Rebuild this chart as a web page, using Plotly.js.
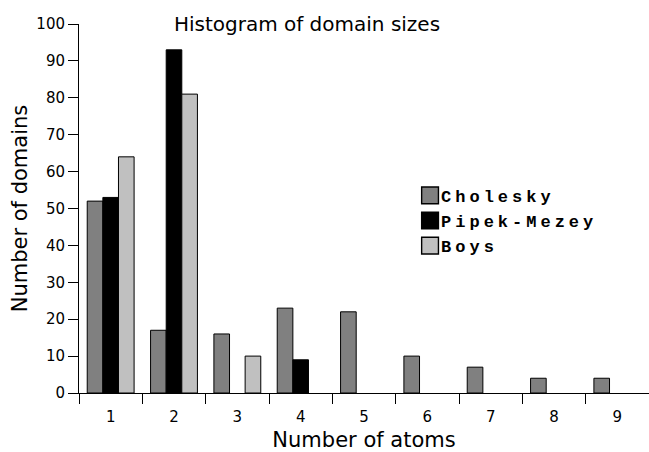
<!DOCTYPE html>
<html>
<head>
<meta charset="utf-8">
<script src="https://cdn.plot.ly/plotly-3.0.1.min.js"></script>
<style>
  html, body { margin: 0; padding: 0; background: #fff; }
  #chart { width: 649px; height: 452px; }
  .legendtext { letter-spacing: 4px; }
  .legendpoints path { transform: translate(29px, 0) scale(1.4); }
</style>
</head>
<body>
<div id="chart"></div>
<script>
const categories = ["1", "2", "3", "4", "5", "6", "7", "8", "9"];
const cholesky = [52, 17, 16, 23, 22, 10, 7, 4, 4];
const pipekMezey = [53, 93, 0, 9, 0, 0, 0, 0, 0];
const boys = [64, 81, 10, 0, 0, 0, 0, 0, 0];
const seriesNames = ["Cholesky", "Pipek-Mezey", "Boys"];
const seriesColors = ["#808080", "#000000", "#c0c0c0"];
const yTicks = [0, 10, 20, 30, 40, 50, 60, 70, 80, 90, 100];

const seriesValues = [cholesky, pipekMezey, boys];
const traces = seriesValues.map((vals, i) => ({
  type: "bar",
  name: seriesNames[i],
  x: categories,
  // zero counts draw no bar at all (no flat outline on the axis)
  y: vals.map(v => (v === 0 ? null : v)),
  marker: { color: seriesColors[i], line: { color: "#000", width: 1 } },
  hoverinfo: "skip"
}));

const layout = {
  width: 649,
  height: 452,
  margin: { l: 79, r: 0, t: 24, b: 59 },
  paper_bgcolor: "#fff",
  plot_bgcolor: "#fff",
  font: { family: "DejaVu Sans", color: "#000" },
  barmode: "group",
  bargap: 0.26,
  bargroupgap: 0,
  title: {
    text: "Histogram of domain sizes",
    font: { family: "DejaVu Sans", size: 20, color: "#000" },
    x: 0.473, xanchor: "center", xref: "container",
    y: 1 - 24 / 452, yanchor: "middle", yref: "container"
  },
  xaxis: {
    type: "category",
    range: [-0.5, 8.5],
    tickson: "boundaries",
    ticks: "outside", ticklen: 10, tickwidth: 1, tickcolor: "#000",
    ticklabelstandoff: 10,
    showline: true, linecolor: "#000", linewidth: 1,
    showgrid: false, zeroline: false,
    tickfont: { family: "DejaVu Sans", size: 15, color: "#000" },
    title: { text: "Number of atoms", font: { family: "DejaVu Sans", size: 21, color: "#000" }, standoff: 10 },
    fixedrange: true
  },
  yaxis: {
    range: [0, 100],
    tickvals: yTicks,
    ticktext: yTicks.map(String),
    ticks: "outside", ticklen: 10, tickwidth: 1, tickcolor: "#000",
    showline: true, linecolor: "#000", linewidth: 1,
    showgrid: false, zeroline: false,
    tickfont: { family: "DejaVu Sans", size: 15, color: "#000" },
    title: { text: "Number of domains", font: { family: "DejaVu Sans", size: 21, color: "#000" }, standoff: 3 },
    fixedrange: true
  },
  showlegend: true,
  legend: {
    x: 0.565, xanchor: "left",
    y: 0.583, yanchor: "top",
    bgcolor: "rgba(0,0,0,0)",
    font: { family: "Liberation Mono", size: 17, color: "#000", weight: "bold" },
    traceorder: "normal"
  }
};

Plotly.newPlot("chart", traces, layout, { staticPlot: true, displayModeBar: false });
</script>
</body>
</html>
